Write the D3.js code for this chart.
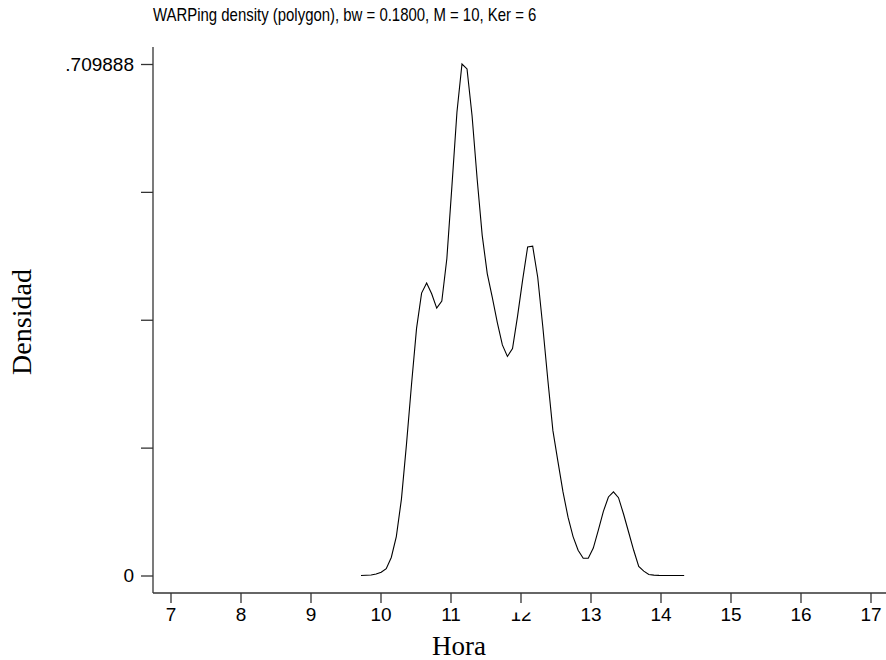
<!DOCTYPE html>
<html>
<head>
    <title>WARPing density</title>
    <script src="https://d3js.org/d3.v7.min.js"></script>
    <style>
        body { margin: 0; background: #fff; }
        text { fill: #000; }
    </style>
</head>
<body>
    <svg id="chart"></svg>

    <script>
        // density polygon (hour, density)
        const hours = [
            9.721, 9.793, 9.866, 9.938, 10.010, 10.082, 10.154, 10.226, 10.299, 10.371,
            10.443, 10.515, 10.587, 10.659, 10.731, 10.803, 10.876, 10.948, 11.020, 11.092,
            11.164, 11.236, 11.308, 11.381, 11.453, 11.525, 11.597, 11.669, 11.741, 11.813,
            11.886, 11.958, 12.030, 12.102, 12.174, 12.246, 12.318, 12.391, 12.463, 12.535,
            12.607, 12.679, 12.751, 12.823, 12.896, 12.968, 13.040, 13.112, 13.184, 13.256,
            13.328, 13.400, 13.473, 13.545, 13.617, 13.689, 13.761, 13.833, 13.905, 13.978,
            14.050, 14.122, 14.194, 14.266, 14.338
        ];
        const density = [
            0.0000, 0.0003, 0.0007, 0.0020, 0.0045, 0.0095, 0.0250, 0.0540, 0.1060, 0.1820,
            0.2650, 0.3430, 0.3920, 0.4060, 0.3910, 0.3710, 0.3810, 0.4400, 0.5400, 0.6430,
            0.709888, 0.7030, 0.6380, 0.5500, 0.4720, 0.4190, 0.3860, 0.3510, 0.3200, 0.3040,
            0.3150, 0.3600, 0.4100, 0.4560, 0.4570, 0.4140, 0.3460, 0.2710, 0.2010, 0.1580,
            0.1160, 0.0810, 0.0540, 0.0350, 0.0240, 0.0240, 0.0380, 0.0630, 0.0890, 0.1090,
            0.1160, 0.1080, 0.0850, 0.0600, 0.0350, 0.0125, 0.0060, 0.0014, 0.0005, 0.0002,
            0.0001, 0.0000, 0.0000, 0.0000, 0.0000
        ];

        const xTicks = [7, 8, 9, 10, 11, 12, 13, 14, 15, 16, 17];
        const yMax = 0.709888;
        const yTicks = [0, yMax / 4, yMax / 2, 3 * yMax / 4, yMax];
        const yTickLabels = ["0", "", "", "", ".709888"];

        const title = "WARPing density (polygon), bw = 0.1800, M = 10, Ker = 6";
        const xTitle = "Hora";
        const yTitle = "Densidad";

        const width = 886, height = 660;
        const svg = d3.select("#chart").attr("width", width).attr("height", height);

        const x = d3.scaleLinear().domain([7, 17]).range([170.5, 870.5]);
        const y = d3.scaleLinear().domain([0, yMax]).range([575.5, 64]);

        const axisColor = "#333";
        const sans = "'Liberation Sans', Arial, Helvetica, sans-serif";
        const serif = "'Liberation Serif', 'Times New Roman', serif";

        // axis lines
        svg.append("line")
            .attr("x1", 153).attr("x2", 153).attr("y1", 47).attr("y2", 593)
            .attr("stroke", axisColor).attr("stroke-width", 1.3);
        svg.append("line")
            .attr("x1", 153).attr("x2", 886).attr("y1", 593).attr("y2", 593)
            .attr("stroke", axisColor).attr("stroke-width", 1.3);

        // y axis
        const yAxis = svg.append("g")
            .attr("transform", "translate(153,0)")
            .call(d3.axisLeft(y).tickValues(yTicks).tickSize(12).tickPadding(7)
                .tickFormat((d, i) => yTickLabels[i]));
        yAxis.select(".domain").remove();
        yAxis.selectAll("line").attr("stroke", axisColor).attr("stroke-width", 1.3);
        yAxis.selectAll("text").attr("font-family", sans).attr("font-size", 19).attr("fill", "#000");

        // x axis
        const xAxis = svg.append("g")
            .attr("transform", "translate(0,593)")
            .call(d3.axisBottom(x).tickValues(xTicks).tickSize(10).tickPadding(5)
                .tickFormat(d3.format("d")));
        xAxis.select(".domain").remove();
        xAxis.selectAll("line").attr("stroke", axisColor).attr("stroke-width", 1.3);
        xAxis.selectAll("text").attr("font-family", sans).attr("font-size", 19).attr("fill", "#000");

        // in the original the top of the "12" label is hidden
        const t12 = xAxis.selectAll(".tick").filter(d => d === 12);
        t12.append("clipPath").attr("id", "cut12")
            .append("rect").attr("x", -30).attr("y", 19.5).attr("width", 60).attr("height", 30);
        t12.select("text").attr("clip-path", "url(#cut12)");

        // density polygon
        const pts = hours.map((h, i) => [h, density[i]]);
        svg.append("path")
            .datum(pts)
            .attr("fill", "none")
            .attr("stroke", "#000")
            .attr("stroke-width", 1.1)
            .attr("d", d3.line().x(d => x(d[0])).y(d => y(d[1])));

        // titles
        svg.append("text")
            .attr("transform", "translate(153,21) scale(0.83,1)")
            .attr("font-family", sans).attr("font-size", 18)
            .text(title);

        svg.append("text")
            .attr("x", 459).attr("y", 655)
            .attr("text-anchor", "middle")
            .attr("font-family", serif).attr("font-size", 27)
            .text(xTitle);

        svg.append("text")
            .attr("transform", "translate(31,322) rotate(-90)")
            .attr("text-anchor", "middle")
            .attr("font-family", serif).attr("font-size", 28)
            .text(yTitle);
    </script>
</body>
</html>
